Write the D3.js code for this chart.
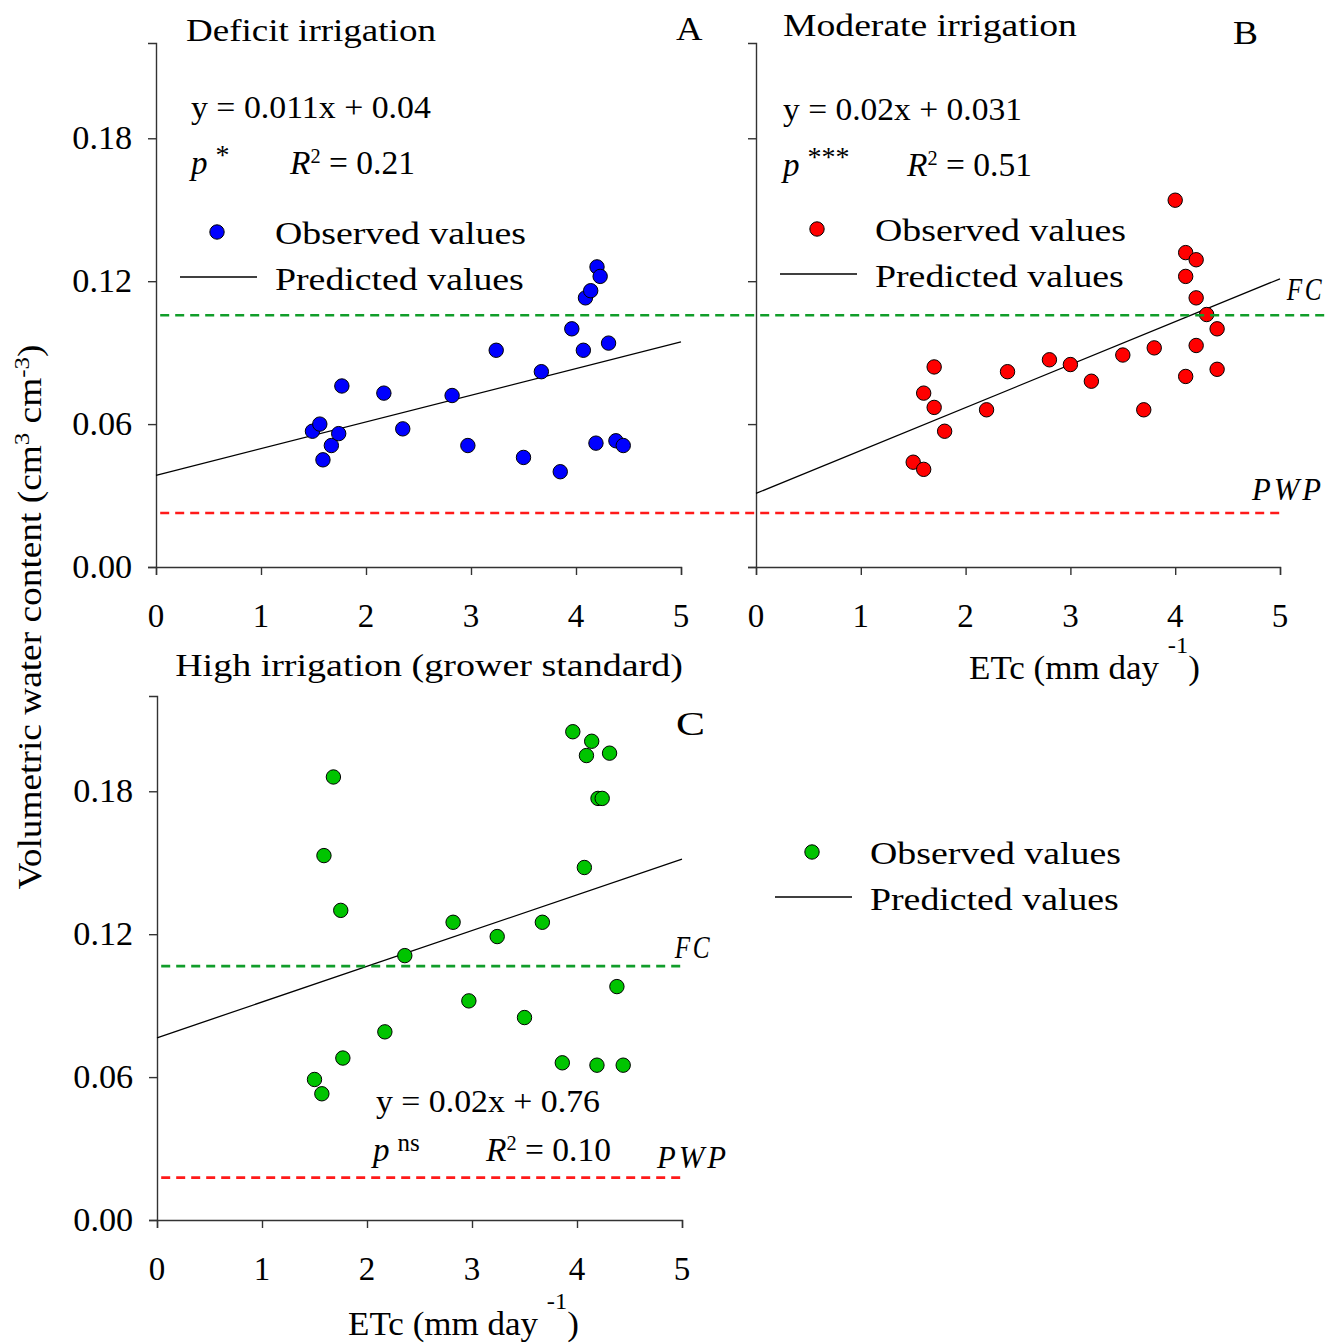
<!DOCTYPE html>
<html><head><meta charset="utf-8">
<script src="https://cdn.jsdelivr.net/npm/d3@7"></script>
<style>
body{margin:0;background:#fff;}
svg text{font-family:"Liberation Serif","Times New Roman",serif;fill:#000;}
</style></head>
<body><svg id="c" width="1340" height="1343"></svg>
<script>
// ---------- data ----------
const xTicks = [0,1,2,3,4,5];
const yTicks = [0,0.06,0.12,0.18];
const yTickLabels = ["0.00","0.06","0.12","0.18"];

// Panel A: Deficit irrigation
const deficitX = [1.49,1.56,1.59,1.67,1.74,1.77,2.17,2.35,2.82,2.97,3.24,3.50,3.67,3.85,3.96,4.07,4.09,4.14,4.20,4.23,4.31,4.19,4.38,4.45];
const deficitY = [0.057,0.060,0.045,0.051,0.056,0.076,0.073,0.058,0.072,0.051,0.091,0.046,0.082,0.040,0.100,0.091,0.113,0.116,0.126,0.122,0.094,0.052,0.053,0.051];
// Panel B: Moderate irrigation
const moderateX = [4.00,4.10,4.20,4.10,4.20,4.30,4.40,4.20,4.40,4.10,3.80,3.50,3.70,3.20,3.00,2.80,2.40,2.20,1.70,1.60,1.70,1.80,1.50,1.60];
const moderateY = [0.154,0.132,0.129,0.122,0.113,0.106,0.100,0.093,0.083,0.080,0.092,0.089,0.066,0.078,0.085,0.087,0.082,0.066,0.084,0.073,0.067,0.057,0.044,0.041];
// Panel C: High irrigation (grower standard)
const highX = [3.96,4.14,4.09,4.31,4.20,4.24,4.07,1.68,1.59,1.75,2.36,2.82,3.24,3.67,4.38,2.97,3.50,2.17,1.77,1.50,1.57,3.86,4.19,4.44];
const highY = [0.205,0.201,0.195,0.196,0.177,0.177,0.148,0.186,0.153,0.130,0.111,0.125,0.119,0.125,0.098,0.092,0.085,0.079,0.068,0.059,0.053,0.066,0.065,0.065];

// fitted (predicted) line values at x = 0 and x = 5
const fitX = [0,5];
const fitDeficit = [0.0385,0.0945];
const fitModerate = [0.0309,0.121];
const fitHigh = [0.0765,0.1515];

// field capacity and permanent wilting point
const fcTop = 0.1057, pwpTop = 0.0227;
const fcC = 0.1066, pwpC = 0.0178;

// ---------- drawing ----------
const svg = d3.select("#c");
const FS = 32;

function stretch(t,w,mid){
  const b = t.node().getBBox();
  const k = w/b.width;
  const cx = mid ? b.x+b.width/2 : b.x;
  t.attr("transform",`translate(${cx},0) scale(${k},1) translate(${-cx},0)`);
  return t;
}

function panel(x0,x1,yBottom,yTop,showYLabels){
  const x = d3.scaleLinear().domain([0,5]).range([x0,x1]);
  const y = d3.scaleLinear().domain([0,0.22]).range([yBottom,yTop]);
  const gx = svg.append("g").attr("transform",`translate(0,${yBottom})`)
    .call(d3.axisBottom(x).tickValues(xTicks).tickSize(8).tickFormat(""));
  const gy = svg.append("g").attr("transform",`translate(${x0},0)`)
    .call(d3.axisLeft(y).tickValues(yTicks).tickSize(8).tickFormat(""));
  [gx,gy].forEach(g=>{g.selectAll("path,line").attr("stroke","#333").attr("stroke-width",1.4);});
  svg.append("g").selectAll("text").data(xTicks).join("text")
    .attr("x",d=>x(d)).attr("y",yBottom+60).attr("text-anchor","middle")
    .attr("font-size",33).text(d=>d);
  if(showYLabels){
    svg.append("g").selectAll("text").data(yTicks).join("text")
      .attr("x",x0-26).attr("y",d=>y(d)+11).attr("text-anchor","end")
      .attr("font-size",33).text((d,i)=>yTickLabels[i])
      .each(function(){ stretch(d3.select(this),60,false); });
  }
  return {x,y};
}

function dashed(x1,x2,yv,color){
  svg.append("line").attr("x1",x1).attr("x2",x2).attr("y1",yv).attr("y2",yv)
    .attr("stroke",color).attr("stroke-width",2.6).attr("stroke-dasharray","9,6");
}

function fit(p,vals){
  svg.append("path").datum(fitX.map((d,i)=>[d,vals[i]]))
    .attr("d",d3.line().x(d=>p.x(d[0])).y(d=>p.y(d[1])))
    .attr("fill","none").attr("stroke","#000").attr("stroke-width",1.3);
}

function dots(p,xs,ys,color){
  svg.append("g").selectAll("circle").data(xs).join("circle")
    .attr("cx",d=>p.x(d)).attr("cy",(d,i)=>p.y(ys[i])).attr("r",7.2)
    .attr("fill",color).attr("stroke","#000").attr("stroke-width",1);
}

function txt(x,y,s,opts={}){
  const t = svg.append("text").attr("x",x).attr("y",y).attr("font-size",opts.fs||FS).text(s);
  if(opts.italic) t.attr("font-style","italic");
  if(opts.anchor) t.attr("text-anchor",opts.anchor);
  if(opts.ls) t.attr("letter-spacing",opts.ls);
  if(opts.w) stretch(t,opts.w,opts.anchor==="middle");
  return t;
}

function legend(dx,dy,color){
  svg.append("circle").attr("cx",dx).attr("cy",dy).attr("r",7.2).attr("fill",color).attr("stroke","#000").attr("stroke-width",1);
  txt(dx+58,dy+12,"Observed values",{w:251});
  svg.append("line").attr("x1",dx-37).attr("x2",dx+40).attr("y1",dy+45).attr("y2",dy+45).attr("stroke","#000").attr("stroke-width",1.3);
  txt(dx+58,dy+58,"Predicted values",{w:249});
}

function stats(x,y,stars,rx,rtext){
  const t = svg.append("text").attr("x",x).attr("y",y).attr("font-size",FS+1);
  t.append("tspan").attr("font-style","italic").text("p");
  t.append("tspan").attr("dx",8).attr("dy",-10).attr("font-size",stars==="ns"?25:28).text(stars);
  const r = svg.append("text").attr("x",rx).attr("y",y).attr("font-size",FS+1);
  r.append("tspan").attr("font-style","italic").text("R");
  r.append("tspan").attr("dy",-11).attr("font-size",20).text("2");
  r.append("tspan").attr("dy",11).text(" = "+rtext);
  stretch(r,126,false);
}

const A = panel(156,681,567,43,true);
const B = panel(756,1280,567,43,false);
const C = panel(157,682,1220,696,true);

fit(A,fitDeficit); fit(B,fitModerate); fit(C,fitHigh);
dots(A,deficitX,deficitY,"#0000ff");
dots(B,moderateX,moderateY,"#ff0000");
dots(C,highX,highY,"#00c400");

// reference lines (top row spans both panels)
dashed(A.x(0.04),B.x(5.43),A.y(fcTop),"#119d2a");
dashed(A.x(0.04),B.x(5),A.y(pwpTop),"#ff1a1a");
dashed(C.x(0.04),C.x(5),C.y(fcC),"#119d2a");
dashed(C.x(0.04),C.x(5),C.y(pwpC),"#ff1a1a");

// titles, labels
txt(186,41,"Deficit irrigation",{w:250});
txt(676,40,"A",{fs:34,w:27});
txt(783,36,"Moderate irrigation",{w:294});
txt(1233,44,"B",{fs:34,w:25});
txt(676,735,"C",{fs:34,w:29});

txt(191,118,"y = 0.011x + 0.04",{w:240});
stats(191,174,"*",290,"0.21");
txt(783,120,"y = 0.02x + 0.031",{w:239});
stats(783,176,"***",907,"0.51");
txt(376,1112,"y = 0.02x + 0.76",{w:224});
stats(373,1161,"ns",486,"0.10");

legend(217,232,"#0000ff");
legend(817,229,"#ff0000");
legend(812,852,"#00c400");

txt(1287,300,"FC",{italic:true,fs:31,ls:3,w:38});
txt(1252,500,"PWP",{italic:true,fs:31,ls:3,w:73});
txt(675,958,"FC",{italic:true,fs:31,ls:3,w:38});
txt(657,1168,"PWP",{italic:true,fs:31,ls:3,w:73});

// x axis titles
txt(429,676,"High irrigation (grower standard)",{anchor:"middle",w:508});
function etc(x,y){
  const t = svg.append("text").attr("x",x).attr("y",y).attr("font-size",FS+1);
  t.append("tspan").text("ETc (mm day ");
  t.append("tspan").attr("dy",-26).attr("font-size",23).text("-1");
  t.append("tspan").attr("dy",26).text(")");
  stretch(t,231,false);
}
etc(969,679);
etc(348,1335);

// y axis title
const yl = svg.append("text").attr("font-size",FS+1).attr("text-anchor","middle");
yl.append("tspan").text("Volumetric water content (cm");
yl.append("tspan").attr("dy",-12).attr("font-size",22).text("3");
yl.append("tspan").attr("dy",12).text(" cm");
yl.append("tspan").attr("dy",-12).attr("font-size",22).text("-3");
yl.append("tspan").attr("dy",12).text(")");
const yb = yl.node().getBBox();
yl.attr("transform",`translate(41,617) rotate(-90) scale(${545/yb.width},1)`);
</script></body></html>
